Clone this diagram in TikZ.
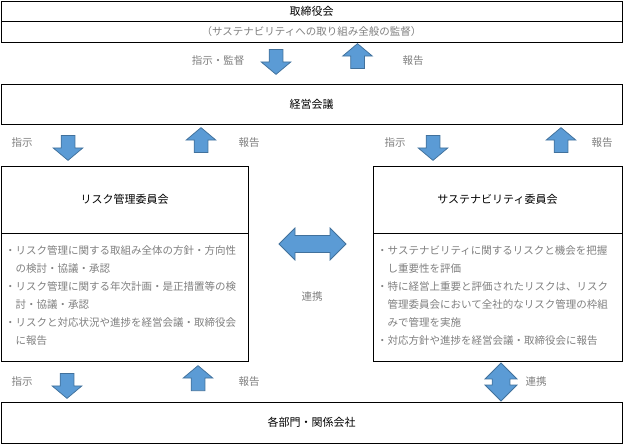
\documentclass[tikz,border=0pt]{standalone}
\usepackage{fontspec}
\newfontfamily\jpfont{Noto Sans CJK JP}
\usetikzlibrary{shapes.arrows,positioning}
\definecolor{arrowblue}{HTML}{5B9BD5}
\definecolor{arrowedge}{HTML}{41719C}
\definecolor{textgray}{HTML}{7F7F7F}

\begin{document}
\begin{tikzpicture}[
  x=1pt, y=-1pt,
  font=\jpfont\fontsize{10.5}{18}\selectfont,
  box/.style={rectangle, draw=black, line width=1pt, inner sep=0pt, outer sep=0pt},
  title/.style={text=black, font=\jpfont\fontsize{11}{13}\selectfont},
  note/.style={text=textgray},
  bullets/.style={text=textgray, align=left, anchor=north west, inner sep=0pt},
  blockarrow/.style={single arrow, draw=arrowedge, fill=arrowblue, line width=0.75pt,
    minimum height=25pt, minimum width=29pt, inner xsep=0pt, inner ysep=6.5pt,
    single arrow head extend=8pt, single arrow tip angle=100, outer sep=0pt},
  downarrow/.style={blockarrow, rotate=-90},
  uparrow/.style={blockarrow, rotate=90},
  linkarrow/.style={double arrow, draw=arrowedge, fill=arrowblue, line width=0.75pt,
    double arrow tip angle=90, inner xsep=0pt, outer sep=0pt}
]
\useasboundingbox (0,0) rectangle (623,445);

% boxes
\node[box, title, minimum width=621pt, minimum height=20pt] (board) at (311.5,11) {取締役会};
\node[box, note, minimum width=621pt, minimum height=21pt, below=0pt of board] (boardnote) {（サステナビリティへの取り組み全般の監督）};
\node[box, title, minimum width=621pt, minimum height=40pt] (mgmt) at (311.5,104) {経営会議};
\node[box, title, minimum width=247pt, minimum height=67pt] (riskhead) at (124.5,199.5) {リスク管理委員会};
\node[box, minimum width=247pt, minimum height=128pt, below=0pt of riskhead] (riskbody) {};
\node[box, title, minimum width=249pt, minimum height=67pt] (susthead) at (497.5,199.5) {サステナビリティ委員会};
\node[box, minimum width=249pt, minimum height=128pt, below=0pt of susthead] (sustbody) {};
\node[box, title, minimum width=621pt, minimum height=41pt] (dept) at (311.5,422.5) {各部門・関係会社};

% bullet texts
\node[bullets] (risktext) at ([xshift=4pt,yshift=-12pt]riskbody.north west)
  {・リスク管理に関する取組み全体の方針・方向性\\
   \hspace*{1em}の検討・協議・承認\\
   ・リスク管理に関する年次計画・是正措置等の検\\
   \hspace*{1em}討・協議・承認\\
   ・リスクと対応状況や進捗を経営会議・取締役会\\
   \hspace*{1em}に報告};
\node[bullets] (susttext) at ([xshift=4pt,yshift=-12pt]sustbody.north west)
  {・サステナビリティに関するリスクと機会を把握\\
   \hspace*{1em}し重要性を評価\\
   ・特に経営上重要と評価されたリスクは、リスク\\
   \hspace*{1em}管理委員会において全社的なリスク管理の枠組\\
   \hspace*{1em}みで管理を実施\\
   ・対応方針や進捗を経営会議・取締役会に報告};

% board <-> management
\node[downarrow] (dn0) at (276,59) {};
\node[uparrow] (up0) at (357.5,59) {};
\node[note] (inst0) at (218,61) {指示・監督};
\node[note] (rep0) at (413,61) {報告};

% management <-> committees
\node[downarrow] (dn1) at (68,145) {};
\node[uparrow] (up1) at (201,143) {};
\node[note] (inst1) at (22,143) {指示};
\node[note] (rep1) at (249,143) {報告};
\node[downarrow] (dn2) at (433,145) {};
\node[uparrow] (up2) at (561,143) {};
\node[note] (inst2) at (395,143) {指示};
\node[note] (rep2) at (602,143) {報告};

% committees <-> each other
\node[linkarrow, minimum height=67pt, minimum width=32pt, inner ysep=7.5pt] (link1) at (312.5,244) {};
\node[note] (linktxt1) at (312,297) {連携};

% committees <-> departments
\node[downarrow] (dn3) at (67,383) {};
\node[uparrow] (up3) at (198,381) {};
\node[note] (inst3) at (22,382) {指示};
\node[note] (rep3) at (249,382) {報告};
\node[linkarrow, minimum height=38pt, minimum width=28pt, inner ysep=8.5pt, rotate=90] (link2) at (501,382) {};
\node[note] (linktxt2) at (536,382) {連携};
\end{tikzpicture}
\end{document}
